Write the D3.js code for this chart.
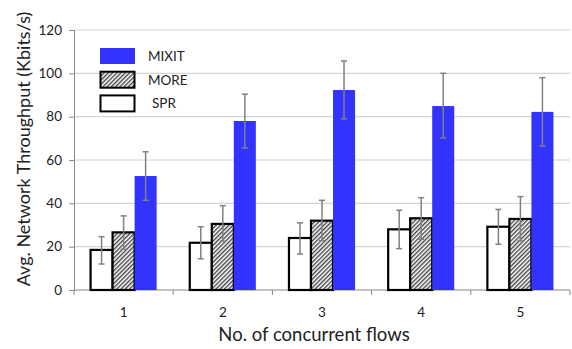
<!DOCTYPE html>
<html>
<head>
<meta charset="utf-8">
<script src="https://cdn.jsdelivr.net/npm/d3@7"></script>
<style>
  body { margin: 0; background: #fff; }
  text { font-family: Lato, "Open Sans", sans-serif; fill: #222; }
</style>
</head>
<body>
<div id="chart"></div>
<script>
const flows = ["1", "2", "3", "4", "5"];
const series = ["SPR", "MORE", "MIXIT"];
const sprMean = [18.5, 21.8, 24, 28, 29.2];
const sprLow = [12, 14.4, 16.6, 19.1, 21.1];
const sprHigh = [24.6, 29.2, 31, 36.8, 37.2];
const moreMean = [26.6, 30.5, 32, 33.1, 32.8];
const moreLow = [18.8, 22.5, 22.8, 23.4, 22.6];
const moreHigh = [34.2, 38.9, 41.4, 42.6, 43.1];
const mixitMean = [52.6, 78, 92.3, 84.9, 82.2];
const mixitLow = [41.4, 65.6, 79, 70.2, 66.5];
const mixitHigh = [63.8, 90.4, 105.7, 100, 98];
const yTicks = [0, 20, 40, 60, 80, 100, 120];

const width = 572, height = 349;
const margin = { top: 30, right: 2, bottom: 59, left: 74 };
const w = width - margin.left - margin.right;
const h = height - margin.top - margin.bottom;

const table = {
  SPR: { mean: sprMean, low: sprLow, high: sprHigh },
  MORE: { mean: moreMean, low: moreLow, high: moreHigh },
  MIXIT: { mean: mixitMean, low: mixitLow, high: mixitHigh }
};

const svg = d3.select("#chart").append("svg")
  .attr("width", width)
  .attr("height", height);

// hatch for MORE
const defs = svg.append("defs");
defs.append("pattern")
  .attr("id", "hatch")
  .attr("patternUnits", "userSpaceOnUse")
  .attr("width", 3).attr("height", 3)
  .attr("patternTransform", "rotate(45)")
  .call(p => {
    p.append("rect").attr("width", 3).attr("height", 3).attr("fill", "#fff");
    p.append("rect").attr("width", 1.4).attr("height", 3).attr("fill", "#444");
  });

const fills = { SPR: "#fff", MORE: "url(#hatch)", MIXIT: "#3333ff" };

const g = svg.append("g")
  .attr("transform", "translate(" + margin.left + "," + margin.top + ")");

const x0 = d3.scaleBand().domain(flows).range([0, w]).paddingInner(0).paddingOuter(0);
const x1 = d3.scaleBand().domain(series).range([0, x0.bandwidth() * 0.666])
  .paddingInner(0).paddingOuter(0);
const groupOffset = x0.bandwidth() * 0.167;

const y = d3.scaleLinear().domain([0, 120]).range([h, 0]);

// gridlines
g.append("g")
  .selectAll("line")
  .data(yTicks.slice(1))
  .join("line")
  .attr("x1", 0).attr("x2", w)
  .attr("y1", d => y(d)).attr("y2", d => y(d))
  .attr("stroke", "#d4d4d4").attr("stroke-width", 1.2);

// y axis
const yAxis = g.append("g")
  .call(d3.axisLeft(y).tickValues(yTicks).tickSize(5).tickPadding(7));
yAxis.select(".domain").attr("stroke", "#888");
yAxis.selectAll(".tick line").attr("stroke", "#888");
yAxis.selectAll(".tick text").style("font-size", "13.5px").attr("fill", "#222");

// x axis with ticks on band boundaries
const xAxis = g.append("g")
  .attr("transform", "translate(0," + h + ")");
xAxis.append("line")
  .attr("x1", 0).attr("x2", w)
  .attr("stroke", "#888");
xAxis.selectAll("line.tk")
  .data(flows.concat(["end"]))
  .join("line")
  .attr("class", "tk")
  .attr("x1", (d, i) => i * x0.step()).attr("x2", (d, i) => i * x0.step())
  .attr("y1", 0).attr("y2", 5)
  .attr("stroke", "#888");
xAxis.selectAll("text")
  .data(flows)
  .join("text")
  .attr("x", d => x0(d) + x0.bandwidth() / 2)
  .attr("y", 27)
  .attr("text-anchor", "middle")
  .style("font-size", "13.5px")
  .text(d => d);

// bars
const groups = g.append("g").selectAll("g")
  .data(flows)
  .join("g")
  .attr("transform", d => "translate(" + (x0(d) + groupOffset) + ",0)");

groups.each(function (f, i) {
  const gg = d3.select(this);
  series.forEach(s => {
    const v = table[s].mean[i];
    gg.append("rect")
      .attr("x", x1(s))
      .attr("y", y(v))
      .attr("width", x1.bandwidth())
      .attr("height", y(0) - y(v))
      .attr("fill", fills[s])
      .attr("stroke", s === "MIXIT" ? "none" : "#000")
      .attr("stroke-width", 2.2);
  });
  series.forEach(s => {
    const cx = x1(s) + x1.bandwidth() / 2;
    const lo = table[s].low[i], hi = table[s].high[i];
    gg.append("line")
      .attr("x1", cx).attr("x2", cx)
      .attr("y1", y(lo)).attr("y2", y(hi))
      .attr("stroke", "#808080").attr("stroke-width", 1.5);
    [lo, hi].forEach(v => {
      gg.append("line")
        .attr("x1", cx - 3).attr("x2", cx + 3)
        .attr("y1", y(v)).attr("y2", y(v))
        .attr("stroke", "#808080").attr("stroke-width", 1.5);
    });
  });
});

// legend
const legend = svg.append("g").attr("transform", "translate(100,48)");
const legendItems = ["MIXIT", "MORE", "SPR"];
legendItems.forEach((s, i) => {
  const row = legend.append("g").attr("transform", "translate(0," + (i * 23.7) + ")");
  row.append("rect")
    .attr("x", s === "MIXIT" ? 0 : 0.5)
    .attr("y", 0)
    .attr("width", s === "MIXIT" ? 35 : 34)
    .attr("height", 16)
    .attr("fill", fills[s])
    .attr("stroke", s === "MIXIT" ? "none" : "#000")
    .attr("stroke-width", 2);
  row.append("text")
    .attr("x", s === "SPR" ? 52 : 48)
    .attr("y", 8)
    .attr("dy", "0.36em")
    .style("font-size", "13.5px")
    .text(s);
});

// axis titles
svg.append("text")
  .attr("transform", "translate(24,149) rotate(-90)")
  .attr("text-anchor", "middle")
  .attr("dy", "0.35em")
  .style("font-size", "18px")
  .text("Avg. Network Throughput (Kbits/s)");

svg.append("text")
  .attr("x", 314)
  .attr("y", 341)
  .attr("text-anchor", "middle")
  .style("font-size", "18.5px")
  .text("No. of concurrent flows");
</script>
</body>
</html>
